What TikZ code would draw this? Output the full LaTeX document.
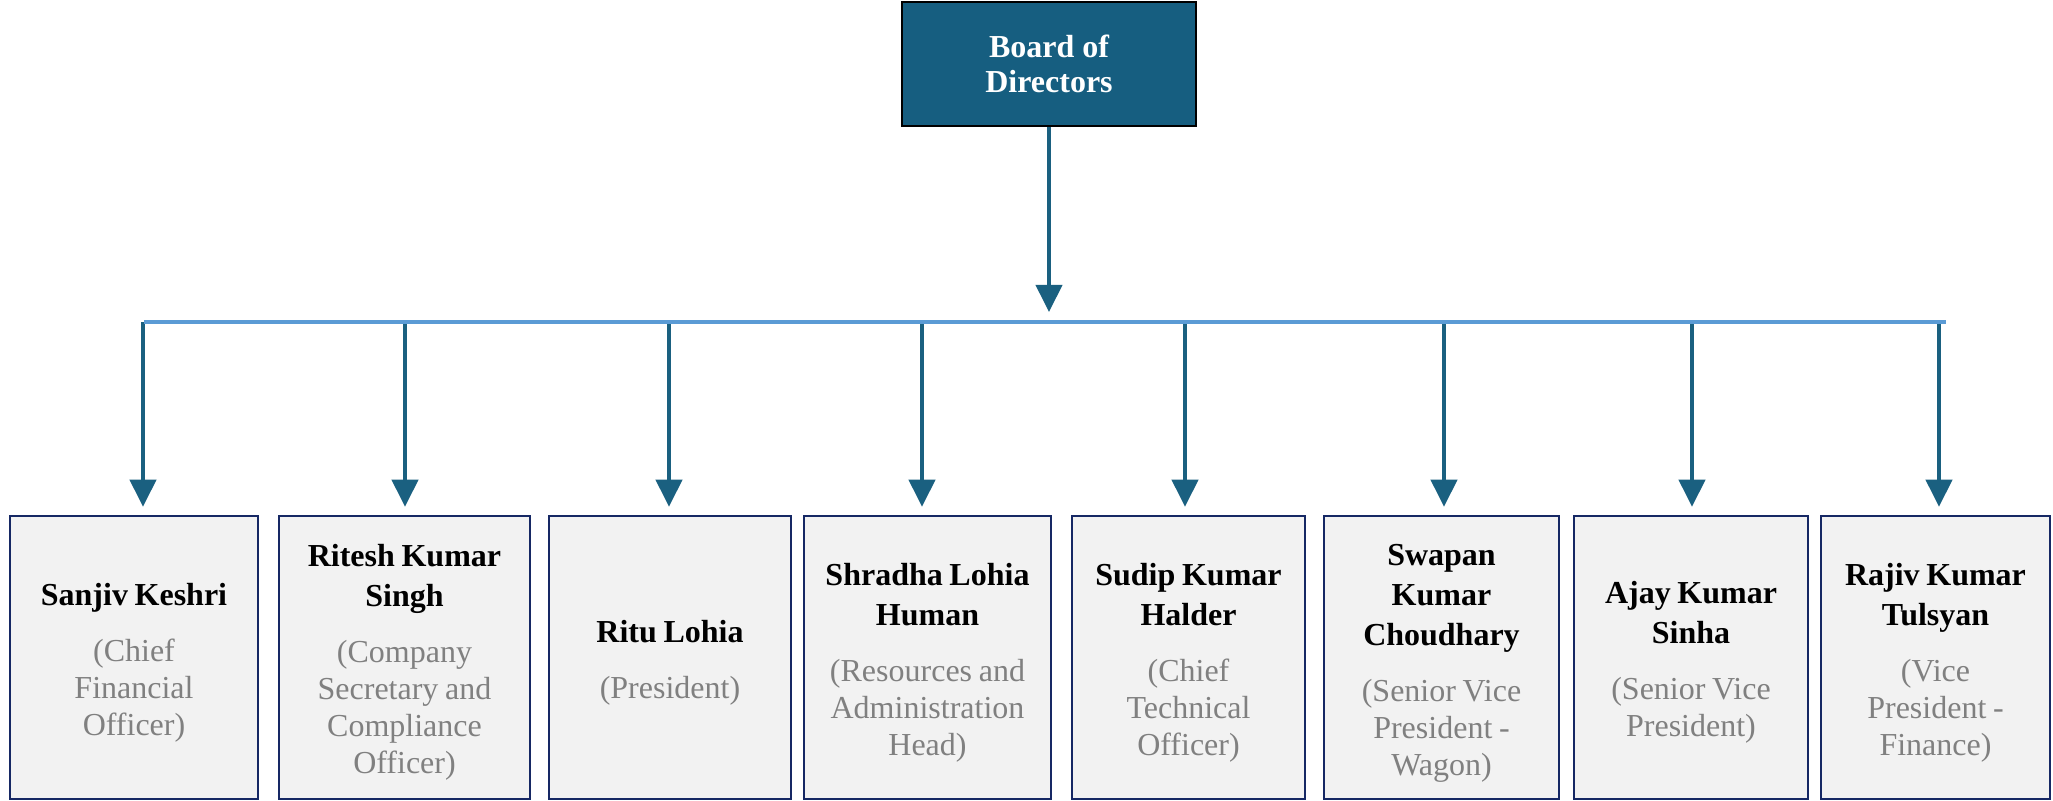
\documentclass[tikz,border=0pt]{standalone}
\usepackage{fontspec}
\setmainfont{Liberation Serif}
\usetikzlibrary{arrows.meta,positioning}

\definecolor{boardblue}{RGB}{22,94,128}
\definecolor{arrowblue}{RGB}{26,96,128}
\definecolor{barblue}{RGB}{91,155,213}
\definecolor{boxnavy}{RGB}{22,40,100}
\definecolor{boxgrey}{RGB}{242,242,242}
\definecolor{rolegrey}{RGB}{128,128,128}

\newcommand{\namefont}{\fontsize{16}{20}\selectfont\bfseries}
\newcommand{\rolefont}{\fontsize{16}{18.5}\selectfont}
\newcommand{\member}[2]{{\namefont\rule{0pt}{16pt}#1\par}\vspace{9.5pt}{\rolefont\textcolor{rolegrey}{#2}\par}}

\tikzset{
  boardbox/.style={draw=black, line width=1.25pt, fill=boardblue, text=white, align=center,
    font=\fontsize{16}{17.5}\selectfont\bfseries, minimum width=147pt, minimum height=62pt, inner sep=0pt},
  memberbox/.style={draw=boxnavy, line width=1.25pt, fill=boxgrey, text width=112pt, align=center,
    minimum height=141.5pt, inner sep=0pt},
  link/.style={draw=arrowblue, line width=2pt, -{Triangle[width=13pt,length=13.5pt]}, shorten >=4pt},
}

\begin{document}
\begin{tikzpicture}[x=0.5pt, y=-0.5pt]
    \useasboundingbox (0,0) rectangle (2053,801);

    % Top of the chart
    \node[boardbox] (board) at (1049,64) {Board of\\Directors};

    % Members
    \node[memberbox, minimum width=124pt] (m1) at (134,657.5) {\member{Sanjiv Keshri}{(Chief\\Financial\\Officer)}};
    \node[memberbox, minimum width=125.5pt] (m2) at (404.5,657.5) {\member{Ritesh Kumar\\Singh}{(Company\\Secretary and\\Compliance\\Officer)}};
    \node[memberbox, minimum width=121pt] (m3) at (670,657.5) {\member{Ritu Lohia}{(President)}};
    \node[memberbox, minimum width=123.5pt] (m4) at (927.5,657.5) {\member{Shradha Lohia\\Human}{(Resources and\\Administration\\Head)}};
    \node[memberbox, minimum width=116.5pt] (m5) at (1188.5,657.5) {\member{Sudip Kumar\\Halder}{(Chief\\Technical\\Officer)}};
    \node[memberbox, minimum width=117.5pt] (m6) at (1441.5,657.5) {\member{Swapan\\Kumar\\Choudhary}{(Senior Vice\\President -\\Wagon)}};
    \node[memberbox, minimum width=117pt] (m7) at (1691,657.5) {\member{Ajay Kumar\\Sinha}{(Senior Vice\\President)}};
    \node[memberbox, minimum width=114.5pt] (m8) at (1935.5,657.5) {\member{Rajiv Kumar\\Tulsyan}{(Vice\\President -\\Finance)}};

    % Connectors
    \coordinate (hub) at (1049,322);
    \draw[link, shorten >=5pt] (board.south) -- (hub);
    \foreach \x [count=\i] in {143,405,669,922,1185,1444,1692,1939} {
        \coordinate (k\i) at (\x,322);
        \draw[link] (k\i) -- (k\i |- m\i.north);
    }

    % Distribution bar
    \coordinate (barL) at (144,322);
    \coordinate (barR) at (1946,322);
    \draw[barblue, line width=2.2pt] (barL) -- (barR);
\end{tikzpicture}
\end{document}
